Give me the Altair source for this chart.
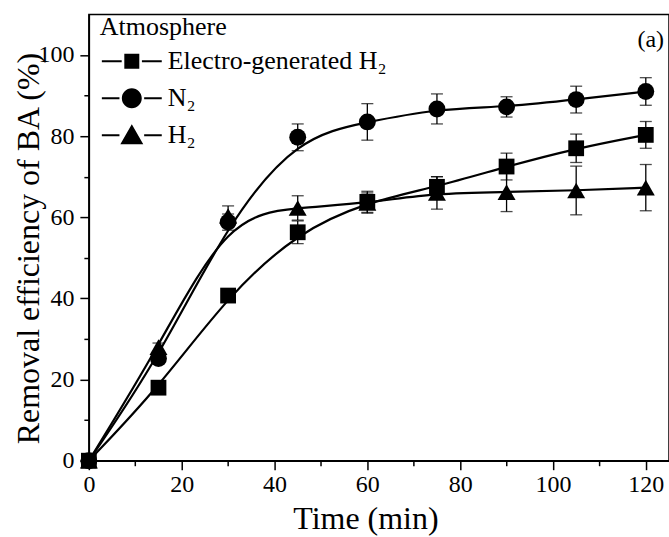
import altair as alt
import pandas as pd

# ---- data ----
time = [0, 15, 30, 45, 60, 75, 90, 105, 120]
series_names = ["Electro-generated H₂", "N₂", "H₂"]
electro = [0, 18.0, 40.7, 56.3, 63.8, 67.5, 72.5, 77.0, 80.3]
electro_err = [0, 1.0, 1.2, 2.8, 2.6, 2.5, 3.3, 3.5, 3.3]
n2 = [0, 25.2, 58.8, 79.7, 83.5, 86.7, 87.2, 89.0, 91.0]
n2_err = [0, 1.2, 2.0, 3.3, 4.5, 3.7, 2.5, 3.3, 3.4]
h2 = [0, 28.0, 60.3, 62.3, 63.5, 66.0, 66.2, 66.6, 67.3]
h2_err = [0, 1.0, 2.5, 3.0, 2.5, 4.0, 4.8, 6.0, 5.7]

rows = []
for name, vals, errs in zip(series_names, [electro, n2, h2], [electro_err, n2_err, h2_err]):
    for t, v, e in zip(time, vals, errs):
        rows.append({"series": name, "time": t, "value": v, "lo": v - e, "hi": v + e})
df = pd.DataFrame(rows)

FONT = "Liberation Serif"

x_scale = alt.Scale(domain=[0, 125], nice=False, zero=False)
y_scale = alt.Scale(domain=[0, 110], nice=False)

x_axis = alt.Axis(
    values=list(range(0, 121, 10)),
    labelExpr="datum.value % 20 == 0 ? datum.label : ''",
    tickSize={"condition": {"test": "datum.value % 20 == 0", "value": 9}, "value": 5},
    labelPadding=3,
    titleX=277,
    titlePadding=7,
    titleFontSize=32,
    labelFlush=False,
)
y_axis = alt.Axis(
    values=list(range(0, 101, 10)),
    labelExpr="datum.value % 20 == 0 ? datum.label : ''",
    tickSize={"condition": {"test": "datum.value % 20 == 0", "value": 9}, "value": 5},
    labelPadding=6,
    titleX=-43,
    titleY=234,
    titleFontSize=32,
    labelFlush=False,
)

X = alt.X("time:Q", scale=x_scale, axis=x_axis, title="Time (min)")
Y = alt.Y("value:Q", scale=y_scale, axis=y_axis, title="Removal efficiency of BA (%)")

base = alt.Chart(df)

lines = base.mark_line(interpolate="basis", color="black", strokeWidth=2.2).encode(
    x=X, y=Y, detail="series:N"
)

rules = base.mark_rule(color="black", strokeWidth=1.3).encode(
    x=alt.X("time:Q", scale=x_scale),
    y=alt.Y("lo:Q", scale=y_scale),
    y2="hi:Q",
)
cap_lo = base.mark_tick(orient="horizontal", color="black", size=12, thickness=1.3).encode(
    x=alt.X("time:Q", scale=x_scale), y=alt.Y("lo:Q", scale=y_scale)
)
cap_hi = base.mark_tick(orient="horizontal", color="black", size=12, thickness=1.3).encode(
    x=alt.X("time:Q", scale=x_scale), y=alt.Y("hi:Q", scale=y_scale)
)

points = base.mark_point(filled=True, opacity=1, color="black").encode(
    x=alt.X("time:Q", scale=x_scale),
    y=alt.Y("value:Q", scale=y_scale),
    shape=alt.Shape("series:N", scale=alt.Scale(domain=series_names,
                    range=["square", "circle", "triangle-up"]), legend=None),
    size=alt.Size("series:N", scale=alt.Scale(domain=series_names, range=[250, 324, 380]),
                  legend=None),
)

# legend symbols: line - marker - line, all as filled shapes
dash = "M-4,-0.14H-1.35V0.14H-4ZM1.35,-0.14H4V0.14H1.35Z"
sq = dash + "M-1,-1H1V1H-1Z"
ci = dash.replace("1.35", "1.65") + "M-1.33,0A1.33,1.33 0 1,0 1.33,0A1.33,1.33 0 1,0 -1.33,0Z"
tr = dash.replace("1.35", "1.65") + "M0,-1.47L1.53,1.2L-1.53,1.2Z"

legend_layer = base.transform_filter("datum.time < 0").mark_point(
    filled=True, color="black", size=225
).encode(
    x=alt.X("time:Q", scale=x_scale),
    y=alt.Y("value:Q", scale=y_scale),
    shape=alt.Shape(
        "series:N",
        scale=alt.Scale(domain=series_names, range=[sq, ci, tr]),
        legend=alt.Legend(
            title="Atmosphere",
            orient="none",
            legendX=11,
            legendY=0,
            padding=0,
            titleFont=FONT,
            titleFontSize=26,
            titleFontWeight="normal",
            titleColor="black",
            titlePadding=8,
            labelFont=FONT,
            labelFontSize=26,
            labelColor="black",
            labelLimit=400,
            labelOffset=23,
            symbolOffset=19,
            symbolSize=225,
            symbolStrokeWidth=0,
            symbolFillColor="black",
            symbolOpacity=1,
            rowPadding=11,
        ),
    ),
)

label_a = alt.Chart(pd.DataFrame({"t": ["(a)"]})).mark_text(
    font=FONT, fontSize=24, align="right", baseline="middle", color="black"
).encode(x=alt.value(576), y=alt.value(26), text="t:N")

chart = alt.layer(lines, rules, cap_lo, cap_hi, points, legend_layer, label_a).resolve_scale(
    shape="independent", size="independent"
).properties(
    width=581,
    height=447,
    padding={"left": 89, "top": 14, "right": 0, "bottom": 76},
    autosize=alt.AutoSizeParams(type="none"),
    background="white",
).configure_view(
    stroke="black", strokeWidth=1.5
).configure_axis(
    labelFont=FONT,
    labelFontSize=24,
    labelColor="black",
    titleFont=FONT,
    titleFontSize=32,
    titleFontWeight="normal",
    titleColor="black",
    domainColor="black",
    domainWidth=1.5,
    tickColor="black",
    tickWidth=1.5,
    grid=False,
).configure_legend(
    titleFont=FONT,
    titleFontSize=26,
    titleFontWeight="normal",
    labelFont=FONT,
    labelFontSize=26,
)

chart.save("out.html", embed_options={"renderer": "svg", "actions": False})
